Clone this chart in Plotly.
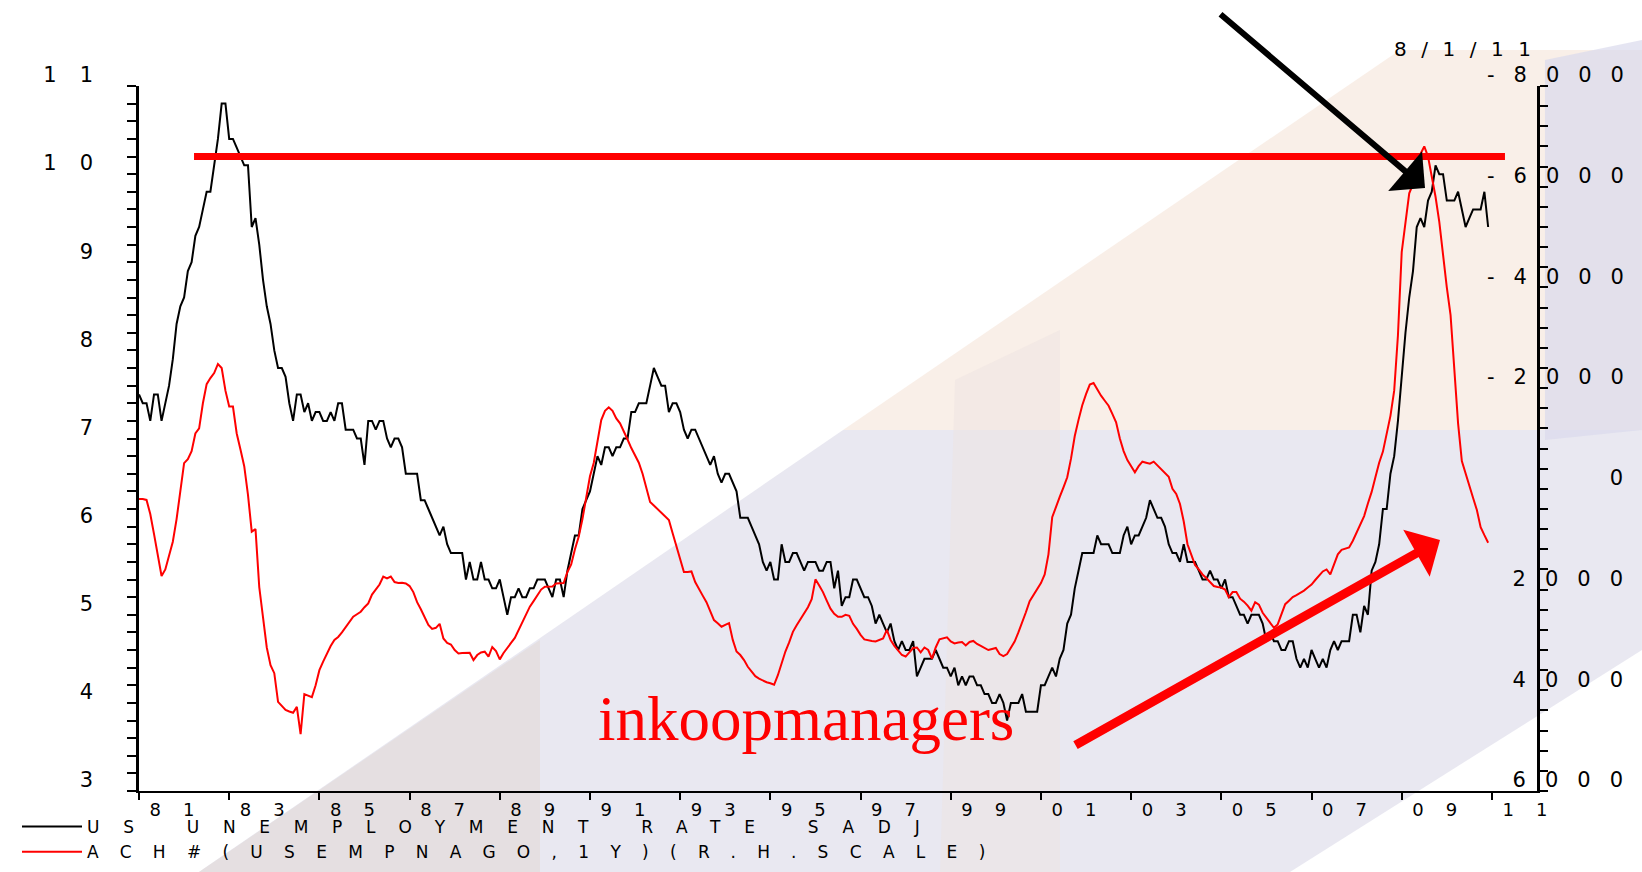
import plotly.graph_objects as go

# ---------------- data ----------------
YEARS = list(range(1981, 2011))

UNEMP = {  # US unemployment rate, SA, %
    1981: [7.5, 7.4, 7.4, 7.2, 7.5, 7.5, 7.2, 7.4, 7.6, 7.9, 8.3, 8.5],
    1982: [8.6, 8.9, 9.0, 9.3, 9.4, 9.6, 9.8, 9.8, 10.1, 10.4, 10.8, 10.8],
    1983: [10.4, 10.4, 10.3, 10.2, 10.1, 10.1, 9.4, 9.5, 9.2, 8.8, 8.5, 8.3],
    1984: [8.0, 7.8, 7.8, 7.7, 7.4, 7.2, 7.5, 7.5, 7.3, 7.4, 7.2, 7.3],
    1985: [7.3, 7.2, 7.2, 7.3, 7.2, 7.4, 7.4, 7.1, 7.1, 7.1, 7.0, 7.0],
    1986: [6.7, 7.2, 7.2, 7.1, 7.2, 7.2, 7.0, 6.9, 7.0, 7.0, 6.9, 6.6],
    1987: [6.6, 6.6, 6.6, 6.3, 6.3, 6.2, 6.1, 6.0, 5.9, 6.0, 5.8, 5.7],
    1988: [5.7, 5.7, 5.7, 5.4, 5.6, 5.4, 5.4, 5.6, 5.4, 5.4, 5.3, 5.3],
    1989: [5.4, 5.2, 5.0, 5.2, 5.2, 5.3, 5.2, 5.2, 5.3, 5.3, 5.4, 5.4],
    1990: [5.4, 5.3, 5.2, 5.4, 5.4, 5.2, 5.5, 5.7, 5.9, 5.9, 6.2, 6.3],
    1991: [6.4, 6.6, 6.8, 6.7, 6.9, 6.9, 6.8, 6.9, 6.9, 7.0, 7.0, 7.3],
    1992: [7.3, 7.4, 7.4, 7.4, 7.6, 7.8, 7.7, 7.6, 7.6, 7.3, 7.4, 7.4],
    1993: [7.3, 7.1, 7.0, 7.1, 7.1, 7.0, 6.9, 6.8, 6.7, 6.8, 6.6, 6.5],
    1994: [6.6, 6.6, 6.5, 6.4, 6.1, 6.1, 6.1, 6.0, 5.9, 5.8, 5.6, 5.5],
    1995: [5.6, 5.4, 5.4, 5.8, 5.6, 5.6, 5.7, 5.7, 5.6, 5.5, 5.6, 5.6],
    1996: [5.6, 5.5, 5.5, 5.6, 5.6, 5.3, 5.5, 5.1, 5.2, 5.2, 5.4, 5.4],
    1997: [5.3, 5.2, 5.2, 5.1, 4.9, 5.0, 4.9, 4.8, 4.9, 4.7, 4.6, 4.7],
    1998: [4.6, 4.6, 4.7, 4.3, 4.4, 4.5, 4.5, 4.5, 4.6, 4.5, 4.4, 4.4],
    1999: [4.3, 4.4, 4.2, 4.3, 4.2, 4.3, 4.3, 4.2, 4.2, 4.1, 4.1, 4.0],
    2000: [4.0, 4.1, 4.0, 3.8, 4.0, 4.0, 4.0, 4.1, 3.9, 3.9, 3.9, 3.9],
    2001: [4.2, 4.2, 4.3, 4.4, 4.3, 4.5, 4.6, 4.9, 5.0, 5.3, 5.5, 5.7],
    2002: [5.7, 5.7, 5.7, 5.9, 5.8, 5.8, 5.8, 5.7, 5.7, 5.7, 5.9, 6.0],
    2003: [5.8, 5.9, 5.9, 6.0, 6.1, 6.3, 6.2, 6.1, 6.1, 6.0, 5.8, 5.7],
    2004: [5.7, 5.6, 5.8, 5.6, 5.6, 5.6, 5.5, 5.4, 5.4, 5.5, 5.4, 5.4],
    2005: [5.3, 5.4, 5.2, 5.2, 5.1, 5.0, 5.0, 4.9, 5.0, 5.0, 5.0, 4.9],
    2006: [4.7, 4.8, 4.7, 4.7, 4.6, 4.6, 4.7, 4.7, 4.5, 4.4, 4.5, 4.4],
    2007: [4.6, 4.5, 4.4, 4.5, 4.4, 4.6, 4.7, 4.6, 4.7, 4.7, 4.7, 5.0],
    2008: [5.0, 4.8, 5.1, 5.0, 5.5, 5.6, 5.8, 6.2, 6.2, 6.6, 6.8, 7.2],
    2009: [7.7, 8.2, 8.6, 8.9, 9.4, 9.5, 9.4, 9.7, 9.8, 10.1, 10.0, 10.0],
    2010: [9.7, 9.7, 9.7, 9.8, 9.6, 9.4, 9.5, 9.6, 9.6, 9.6, 9.8, 9.4],
}

EMP_CHANGE = {  # 1-year change in employment, thousands (right, inverted scale)
    1981: [200, 200, 220, 500, 900, 1350, 1730, 1600, 1350, 1050, 600, 60],
    1982: [-510, -590, -750, -1100, -1200, -1700, -2080, -2200, -2300, -2480, -2400, -1950],
    1983: [-1635, -1635, -1100, -780, -450, 120, 850, 800, 1950, 2550, 3150, 3500],
    1984: [3660, 4230, 4300, 4390, 4420, 4445, 4330, 4870, 4075, 4100, 4135, 3900],
    1985: [3600, 3430, 3260, 3120, 3000, 2940, 2850, 2750, 2650, 2540, 2490, 2440],
    1986: [2350, 2274, 2100, 2010, 1900, 1740, 1777, 1740, 1850, 1870, 1863, 1880],
    1987: [1930, 2050, 2250, 2390, 2560, 2700, 2780, 2760, 2680, 2970, 3060, 3090],
    1988: [3200, 3267, 3258, 3254, 3254, 3400, 3300, 3250, 3234, 3330, 3140, 3220],
    1989: [3386, 3260, 3150, 3060, 2960, 2800, 2640, 2480, 2340, 2230, 2110, 2000],
    1990: [1943, 1943, 1940, 1880, 1870, 1870, 1650, 1500, 1200, 950, 600, 200],
    1991: [-250, -513, -950, -1367, -1550, -1620, -1550, -1400, -1300, -1150, -980, -810],
    1992: [-660, -520, -300, -20, 260, 330, 400, 480, 553, 619, 880, 1130],
    1993: [1400, 1650, 1650, 1640, 1850, 2000, 2120, 2250, 2430, 2605, 2670, 2738],
    1994: [2700, 2665, 3000, 3230, 3300, 3400, 3533, 3620, 3720, 3770, 3810, 3840],
    1995: [3860, 3890, 3700, 3470, 3230, 3050, 2840, 2710, 2590, 2480, 2350, 2190],
    1996: [1797, 1920, 2050, 2220, 2380, 2480, 2540, 2540, 2500, 2520, 2680, 2780],
    1997: [2900, 2989, 3010, 3020, 3032, 3000, 2970, 2800, 3000, 3118, 3200, 3300],
    1998: [3330, 3250, 3160, 3150, 3245, 3150, 3200, 3372, 3150, 2989, 2970, 2947],
    1999: [3030, 3070, 3050, 3040, 3110, 3040, 3020, 3080, 3118, 3160, 3201, 3180],
    2000: [3160, 3280, 3320, 3280, 3150, 3032, 2850, 2660, 2450, 2230, 2100, 2000],
    2001: [1870, 1700, 1300, 564, 350, 160, -30, -230, -600, -1050, -1370, -1660],
    2002: [-1880, -2070, -2100, -1960, -1850, -1750, -1651, -1490, -1320, -1000, -750, -570],
    2003: [-440, -330, -450, -540, -520, -500, -540, -470, -390, -320, -240, 0],
    2004: [100, 300, 649, 1100, 1320, 1510, 1600, 1700, 1770, 1850, 1930, 1950],
    2005: [1960, 2000, 2150, 2050, 2050, 2181, 2240, 2320, 2420, 2250, 2300, 2460],
    2006: [2560, 2660, 2760, 2691, 2500, 2290, 2220, 2150, 2110, 2070, 2020, 1960],
    2007: [1900, 1810, 1730, 1640, 1600, 1700, 1500, 1300, 1210, 1190, 1165, 1030],
    2008: [860, 700, 540, 290, 60, -230, -520, -740, -1080, -1450, -1950, -3050],
    2009: [-4700, -5300, -5870, -6050, -6400, -6650, -6800, -6600, -6200, -5800, -5300, -4600],
    2010: [-4000, -3450, -2450, -1300, -550, -290, -50, 180, 420, 760, 920, 1070],
}

LEFT_TICKS = [3, 4, 5, 6, 7, 8, 9, 10, 11]
LEFT_LABELS = ["3", "4", "5", "6", "7", "8", "9", "10", "11"]
RIGHT_TICKS = [-8000, -6000, -4000, -2000, 0, 2000, 4000, 6000]
RIGHT_LABELS = ["-8000", "-6000", "-4000", "-2000", "0", "2000", "4000", "6000"]
X_TICKS = list(range(1981, 2012, 2))
X_LABELS = ["81", "83", "85", "87", "89", "91", "93", "95", "97", "99",
            "01", "03", "05", "07", "09", "11"]

SERIES_1 = "US UNEMPLOYMENT RATE SADJ"
SERIES_2 = "ACH#(USEMPNAGO,1Y)(R.H.SCALE)"
DATE_LABEL = "8/1/11"
WATERMARK = "inkoopmanagers"
REF_LEVEL = 10.2          # the red horizontal reference line (left scale)
REF_X0, REF_X1 = 1982.22, 2011.29

# ---------------- helpers ----------------
W, H = 1642, 872
ML, MR, MT, MB = 139, 105, 86, 81
PW, PH = W - ML - MR, H - MT - MB


def px_x(p):
    return (p - ML) / PW


def px_y(p):
    return (H - MB - p) / PH


def spaced(s, px):
    if len(s) < 2:
        return s
    return f'<span style="letter-spacing:{px}px">{s[:-1]}</span>{s[-1]}'


def pad_right_label(s):
    # keep the digits aligned like right-justified labels
    if s.startswith("-"):
        return s
    return "\u2008" + "\u2007" * (4 - len(s)) + s


x_months = [y + m / 12 for y in YEARS for m in range(12)]
unemp = [v for y in YEARS for v in UNEMP[y]]
emp_chg = [v for y in YEARS for v in EMP_CHANGE[y]]

FONT = "DejaVu Sans"

fig = go.Figure()
fig.add_trace(go.Scatter(
    x=x_months, y=unemp, mode="lines", name=spaced(SERIES_1, 23.7),
    line=dict(color="#000000", width=2), yaxis="y"))
fig.add_trace(go.Scatter(
    x=x_months, y=emp_chg, mode="lines", name=spaced(SERIES_2, 21.3),
    line=dict(color="#ff0000", width=2), yaxis="y2"))


def poly(pts):
    return "M " + " L ".join(f"{px_x(a):.4f},{px_y(b):.4f}" for a, b in pts) + " Z"


BG = [
    ([(199, 872), (843, 430), (1642, 430), (1642, 650), (1290, 872)], "rgba(226,224,236,0.75)"),
    ([(843, 430), (1400, 50), (1642, 50), (1642, 430)], "rgba(245,228,216,0.6)"),
    ([(1545, 60), (1642, 40), (1642, 430), (1545, 440)], "rgba(218,218,236,0.7)"),
    ([(940, 872), (955, 380), (1060, 330), (1060, 872)], "rgba(238,228,226,0.5)"),
    ([(199, 872), (540, 640), (540, 872)], "rgba(226,220,218,0.7)"),
]
shapes = [dict(type="path", xref="paper", yref="paper", path=poly(p),
               fillcolor=c, line=dict(width=0), layer="below") for p, c in BG]
shapes.append(dict(type="line", xref="x", yref="y", x0=REF_X0, x1=REF_X1,
                   y0=REF_LEVEL, y1=REF_LEVEL, line=dict(color="#ff0000", width=7)))

annotations = [
    dict(x=px_x(1462), y=px_y(49), xref="paper", yref="paper",
         text=spaced(DATE_LABEL, 14.5), showarrow=False, xanchor="center", yanchor="middle",
         font=dict(family=FONT, size=20, color="black")),
    dict(x=px_x(806), y=px_y(719), xref="paper", yref="paper",
         text=WATERMARK, showarrow=False, xanchor="center", yanchor="middle",
         font=dict(family="Liberation Serif", size=63, color="#ff0000")),
    dict(x=px_x(1425), y=px_y(188), xref="paper", yref="paper", text="",
         showarrow=True, ax=-206, ay=-175, arrowhead=1, arrowwidth=6,
         arrowsize=1.45, arrowcolor="black"),
    dict(x=px_x(1440), y=px_y(540), xref="paper", yref="paper", text="",
         showarrow=True, ax=-366, ay=206, arrowhead=1, arrowwidth=9,
         arrowsize=1.0, arrowcolor="#ff0000"),
]

fig.update_layout(
    width=W, height=H,
    margin=dict(l=ML, r=MR, t=MT, b=MB, autoexpand=False),
    paper_bgcolor="white", plot_bgcolor="rgba(0,0,0,0)",
    font=dict(family=FONT, color="black"),
    showlegend=True,
    legend=dict(x=px_x(17), y=px_y(809), xanchor="left", yanchor="top",
                bgcolor="rgba(0,0,0,0)", itemwidth=60, tracegroupgap=0,
                font=dict(family=FONT, size=17, color="black")),
    xaxis=dict(range=[1981, 2012], showgrid=False, zeroline=False,
               showline=True, linecolor="black", linewidth=2,
               ticks="outside", ticklen=7, tickwidth=2, tickcolor="black",
               tickmode="array", tickvals=X_TICKS,
               ticktext=[spaced(t, 22) for t in X_LABELS],
               ticklabelshift=33, ticklabelstandoff=-6,
               tickfont=dict(family=FONT, size=18, color="black")),
    yaxis=dict(range=[3, 11], showgrid=False, zeroline=False,
               showline=True, linecolor="black", linewidth=2.5,
               ticks="outside", ticklen=9, tickwidth=1.5, tickcolor="black",
               tickmode="array", tickvals=LEFT_TICKS,
               ticktext=[spaced(t, 23) for t in LEFT_LABELS],
               ticklabelshift=-11, ticklabelstandoff=30,
               minor=dict(tickmode="linear", tick0=3, dtick=0.2, ticks="outside",
                          ticklen=9, tickwidth=1.5, tickcolor="black"),
               tickfont=dict(family=FONT, size=21, color="black")),
    yaxis2=dict(range=[6000, -8000], overlaying="y", side="right", anchor="x",
                showgrid=False, zeroline=False,
                showline=True, linecolor="black", linewidth=2.5,
                ticks="outside", ticklen=8, tickwidth=1.5, tickcolor="black",
                tickmode="array", tickvals=RIGHT_TICKS,
                ticktext=[spaced(pad_right_label(t), 19) for t in RIGHT_LABELS],
                ticklabelshift=11, ticklabelstandoff=-65,
                minor=dict(tickmode="linear", tick0=-8000, dtick=400, ticks="outside",
                           ticklen=8, tickwidth=1.5, tickcolor="black"),
                tickfont=dict(family=FONT, size=21, color="black")),
    shapes=shapes,
    annotations=annotations,
)

fig.write_html("out.html", config={"displayModeBar": False},
               post_script="document.body.style.margin='0px';")
